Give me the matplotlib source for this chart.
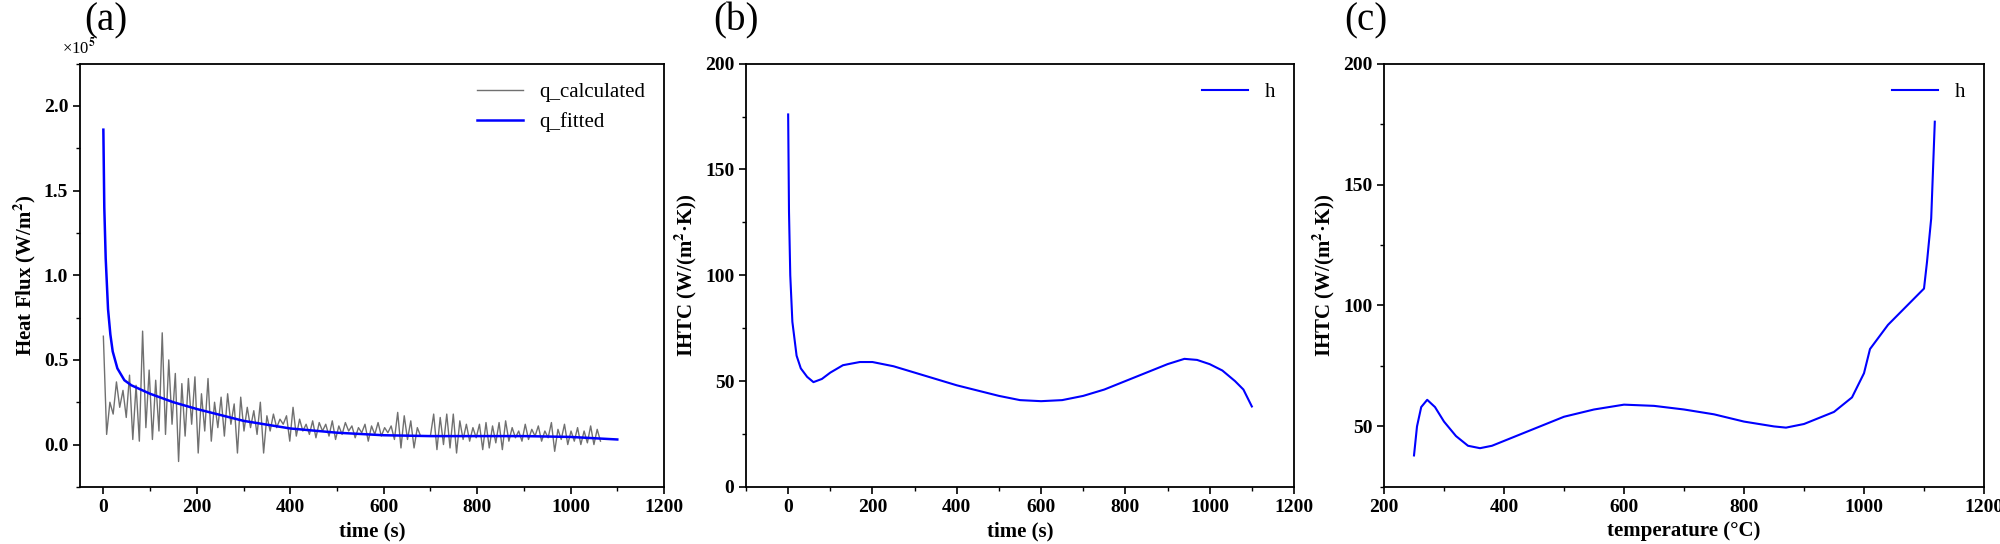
import numpy as np
import matplotlib
matplotlib.use("Agg")
import matplotlib.pyplot as plt
from matplotlib.ticker import MultipleLocator, FormatStrFormatter

plt.rcParams["font.family"] = ["Liberation Serif", "DejaVu Serif"]
plt.rcParams["font.weight"] = "bold"
plt.rcParams["mathtext.fontset"] = "stix"

# (a) heat flux, x1e5 W/m2
t_fit = [0, 2, 5, 10, 15, 20, 30, 45, 60, 100, 150, 200, 300, 400, 500, 600, 700, 800, 900, 1000, 1100]
q_fit = [1.86, 1.40, 1.10, 0.80, 0.65, 0.55, 0.45, 0.38, 0.35, 0.30, 0.25, 0.21, 0.14, 0.095, 0.07,
         0.055, 0.05, 0.05, 0.05, 0.045, 0.03]
dt_calc = 7
q_calc = [0.64, 0.06, 0.25, 0.18, 0.37, 0.22, 0.32, 0.16, 0.41, 0.03, 0.35, 0.02, 0.67, 0.10, 0.44, 0.03,
          0.38, 0.08, 0.66, 0.06, 0.50, 0.12, 0.42, -0.10, 0.36, 0.05, 0.39, 0.12, 0.40, -0.05, 0.30, 0.08,
          0.39, 0.02, 0.25, 0.10, 0.28, 0.05, 0.30, 0.12, 0.24, -0.05, 0.28, 0.08, 0.22, 0.10, 0.20, 0.06,
          0.25, -0.05, 0.17, 0.08, 0.18, 0.10, 0.15, 0.12, 0.17, 0.02, 0.22, 0.05, 0.15, 0.08, 0.12, 0.06,
          0.14, 0.04, 0.13, 0.08, 0.12, 0.05, 0.14, 0.03, 0.11, 0.06, 0.13, 0.08, 0.11, 0.04, 0.10, 0.07,
          0.12, 0.02, 0.11, 0.06, 0.13, 0.05, 0.10, 0.07, 0.11, 0.03, 0.19, -0.02, 0.17, 0.03, 0.14, -0.02,
          0.10, 0.05, 0.05, 0.05, 0.05, 0.18, -0.03, 0.16, 0.00, 0.18, -0.02, 0.18, -0.05, 0.14, 0.03, 0.12,
          0.02, 0.10, 0.04, 0.12, -0.03, 0.13, -0.02, 0.11, 0.01, 0.13, -0.03, 0.14, 0.02, 0.10, 0.04, 0.08,
          0.02, 0.12, 0.03, 0.09, 0.05, 0.11, 0.02, 0.08, 0.04, 0.13, -0.04, 0.09, 0.03, 0.12, 0.00, 0.08,
          0.02, 0.10, 0.00, 0.08, 0.01, 0.11, 0.00, 0.09, 0.02]
t_calc = np.arange(len(q_calc)) * dt_calc

# (b) IHTC vs time
t_h = [0, 2, 5, 10, 20, 30, 45, 60, 80, 100, 130, 170, 200, 250, 300, 350, 400, 450, 500, 550, 600,
       650, 700, 750, 800, 850, 900, 940, 970, 1000, 1030, 1060, 1080, 1100]
h_t = [176, 130, 100, 78, 62, 56, 52, 49.5, 51, 54, 57.5, 59, 59, 57, 54, 51, 48, 45.5, 43, 41, 40.5,
       41, 43, 46, 50, 54, 58, 60.5, 60, 58, 55, 50, 46, 38]

# (c) IHTC vs temperature
temp = [250, 255, 262, 272, 285, 300, 320, 340, 360, 380, 420, 460, 500, 550, 600, 650, 700, 750, 800,
        850, 870, 900, 950, 980, 1000, 1010, 1040, 1080, 1100, 1105, 1112, 1118]
h_T = [38, 50, 58, 61, 58, 52, 46, 42, 41, 42, 46, 50, 54, 57, 59, 58.5, 57, 55, 52,
       50, 49.5, 51, 56, 62, 72, 82, 92, 102, 107, 118, 136, 176]

fig = plt.figure(figsize=(20, 5.44), dpi=100)
ax1 = fig.add_axes([0.040, 0.105, 0.292, 0.778])
ax2 = fig.add_axes([0.373, 0.105, 0.274, 0.778])
ax3 = fig.add_axes([0.692, 0.105, 0.300, 0.778])

lab_kw = dict(fontsize=15, fontweight="bold")
leg_prop = dict(size=15, weight="normal")
for ax in (ax1, ax2, ax3):
    for s in ax.spines.values():
        s.set_linewidth(1.3)
    ax.tick_params(which="major", direction="out", length=5, width=1.2, labelsize=14)
    ax.tick_params(which="minor", direction="out", length=3, width=1.0)
    ax.xaxis.set_major_locator(MultipleLocator(200))
    ax.xaxis.set_minor_locator(MultipleLocator(100))

ax1.plot(t_calc, q_calc, color="#707070", lw=1.0, label="q_calculated")
ax1.plot(t_fit, q_fit, color="blue", lw=1.8, label="q_fitted")
ax1.set_xlim(-50, 1200)
ax1.set_ylim(-0.25, 2.25)
ax1.yaxis.set_major_locator(MultipleLocator(0.5))
ax1.yaxis.set_minor_locator(MultipleLocator(0.25))
ax1.yaxis.set_major_formatter(FormatStrFormatter("%.1f"))
ax1.set_xlabel("time (s)", **lab_kw)
ax1.set_ylabel("Heat Flux (W/m$^{\\mathbf{2}}$)", **lab_kw)
ax1.text(-0.03, 1.015, "×10$^5$", transform=ax1.transAxes, fontsize=12, fontweight="normal",
         ha="left", va="bottom")
ax1.legend(loc="upper right", frameon=False, prop=leg_prop, handlelength=2.2)

ax2.plot(t_h, h_t, color="blue", lw=1.5, label="h")
ax2.set_xlim(-100, 1200)
ax2.set_ylim(0, 200)
ax2.yaxis.set_major_locator(MultipleLocator(50))
ax2.yaxis.set_minor_locator(MultipleLocator(25))
ax2.set_xlabel("time (s)", **lab_kw)
ax2.set_ylabel("IHTC (W/(m$^{\\mathbf{2}}$·K))", **lab_kw)
ax2.legend(loc="upper right", frameon=False, prop=leg_prop, handlelength=2.2)

ax3.plot(temp, h_T, color="blue", lw=1.5, label="h")
ax3.set_xlim(200, 1200)
ax3.set_ylim(25, 200)
ax3.yaxis.set_major_locator(MultipleLocator(50))
ax3.yaxis.set_minor_locator(MultipleLocator(25))
ax3.set_xlabel("temperature (°C)", **lab_kw)
ax3.set_ylabel("IHTC (W/(m$^{\\mathbf{2}}$·K))", **lab_kw)
ax3.legend(loc="upper right", frameon=False, prop=leg_prop, handlelength=2.2)

fig.text(0.053, 0.962, "(a)", fontsize=28, fontweight="normal", ha="center", va="center")
fig.text(0.368, 0.962, "(b)", fontsize=28, fontweight="normal", ha="center", va="center")
fig.text(0.683, 0.962, "(c)", fontsize=28, fontweight="normal", ha="center", va="center")

fig.savefig("out.png", dpi=100)
